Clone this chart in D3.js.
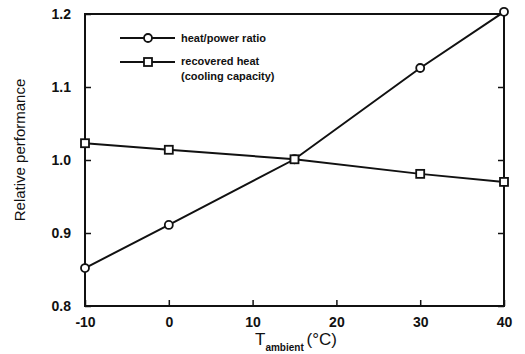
<!DOCTYPE html>
<html>
<head>
<meta charset="utf-8">
<script src="https://cdn.jsdelivr.net/npm/d3@7"></script>
<style>
  body { margin: 0; background: #fff; }
  svg text { font-family: "Liberation Sans", Arial, sans-serif; fill: #111; }
</style>
</head>
<body>
<svg id="chart" width="525" height="354"></svg>
<script>
// data
const temps = [-10, 0, 15, 30, 40];
const heatPowerRatio = [0.852, 0.911, 1.001, 1.126, 1.203];
const recoveredHeat = [1.023, 1.014, 1.001, 0.981, 0.970];
const xTicks = [-10, 0, 10, 20, 30, 40];
const yTicks = [0.8, 0.9, 1.0, 1.1, 1.2];

const margin = { top: 14, right: 21, bottom: 48, left: 85 };
const width = 525, height = 354;
const w = width - margin.left - margin.right;
const h = height - margin.top - margin.bottom;

const svg = d3.select('#chart');
const g = svg.append('g').attr('transform', `translate(${margin.left},${margin.top})`);

const x = d3.scaleLinear().domain([-10, 40]).range([0, w]);
const y = d3.scaleLinear().domain([0.8, 1.2]).range([h, 0]);

// frame
g.append('rect')
  .attr('width', w).attr('height', h)
  .attr('fill', 'none').attr('stroke', '#111').attr('stroke-width', 2);

// bottom axis, ticks inward
const xAxis = g.append('g')
  .attr('transform', `translate(0,${h})`)
  .call(d3.axisBottom(x).tickValues(xTicks).tickSize(-6).tickPadding(11).tickFormat(d => String(d)));
xAxis.select('.domain').remove();
xAxis.selectAll('line').attr('stroke', '#111').attr('stroke-width', 1.5);
xAxis.selectAll('text').style('font-size', '14px').style('font-weight', 'bold');

// left axis
const yAxis = g.append('g')
  .call(d3.axisLeft(y).tickValues(yTicks).tickSize(-6).tickPadding(14).tickFormat(d3.format('.1f')));
yAxis.select('.domain').remove();
yAxis.selectAll('line').attr('stroke', '#111').attr('stroke-width', 1.5);
yAxis.selectAll('text').style('font-size', '14px').style('font-weight', 'bold');

// right axis ticks only
const yRight = g.append('g')
  .attr('transform', `translate(${w},0)`)
  .call(d3.axisRight(y).tickValues(yTicks).tickSize(-6).tickFormat(''));
yRight.select('.domain').remove();
yRight.selectAll('line').attr('stroke', '#111').attr('stroke-width', 1.5);

const line = d3.line().x(d => x(d[0])).y(d => y(d[1]));
const hp = temps.map((t, i) => [t, heatPowerRatio[i]]);
const rh = temps.map((t, i) => [t, recoveredHeat[i]]);

g.append('path').datum(hp).attr('d', line)
  .attr('fill', 'none').attr('stroke', '#111').attr('stroke-width', 2);
g.append('path').datum(rh).attr('d', line)
  .attr('fill', 'none').attr('stroke', '#111').attr('stroke-width', 2);

g.selectAll('.hp').data(hp).enter().append('circle')
  .attr('cx', d => x(d[0])).attr('cy', d => y(d[1])).attr('r', 4)
  .attr('fill', '#fff').attr('stroke', '#111').attr('stroke-width', 1.8);
g.selectAll('.rh').data(rh).enter().append('rect')
  .attr('x', d => x(d[0]) - 4).attr('y', d => y(d[1]) - 4)
  .attr('width', 8).attr('height', 8)
  .attr('fill', '#fff').attr('stroke', '#111').attr('stroke-width', 1.8);

// legend
const leg = svg.append('g');
leg.append('line').attr('x1', 120).attr('x2', 175).attr('y1', 38).attr('y2', 38)
  .attr('stroke', '#111').attr('stroke-width', 2);
leg.append('circle').attr('cx', 148).attr('cy', 38).attr('r', 4)
  .attr('fill', '#fff').attr('stroke', '#111').attr('stroke-width', 1.8);
leg.append('text').attr('x', 181).attr('y', 42).style('font-size', '11px').style('font-weight', 'bold')
  .text('heat/power ratio');
leg.append('line').attr('x1', 120).attr('x2', 175).attr('y1', 62).attr('y2', 62)
  .attr('stroke', '#111').attr('stroke-width', 2);
leg.append('rect').attr('x', 144).attr('y', 58).attr('width', 8).attr('height', 8)
  .attr('fill', '#fff').attr('stroke', '#111').attr('stroke-width', 1.8);
leg.append('text').attr('x', 181).attr('y', 65).style('font-size', '11px').style('font-weight', 'bold')
  .text('recovered heat');
leg.append('text').attr('x', 181).attr('y', 80).style('font-size', '11px').style('font-weight', 'bold')
  .text('(cooling capacity)');

// axis labels
svg.append('text')
  .attr('transform', 'translate(25,150) rotate(-90)')
  .attr('text-anchor', 'middle')
  .style('font-size', '15px')
  .text('Relative performance');

const xl = svg.append('text')
  .attr('x', 255).attr('y', 345)
  .style('font-size', '17px');
xl.append('tspan').text('T');
xl.append('tspan').attr('dy', 6).style('font-size', '10px').style('font-weight', 'bold').text('ambient ');
xl.append('tspan').attr('dy', -6).text('(°C)');
</script>
</body>
</html>
